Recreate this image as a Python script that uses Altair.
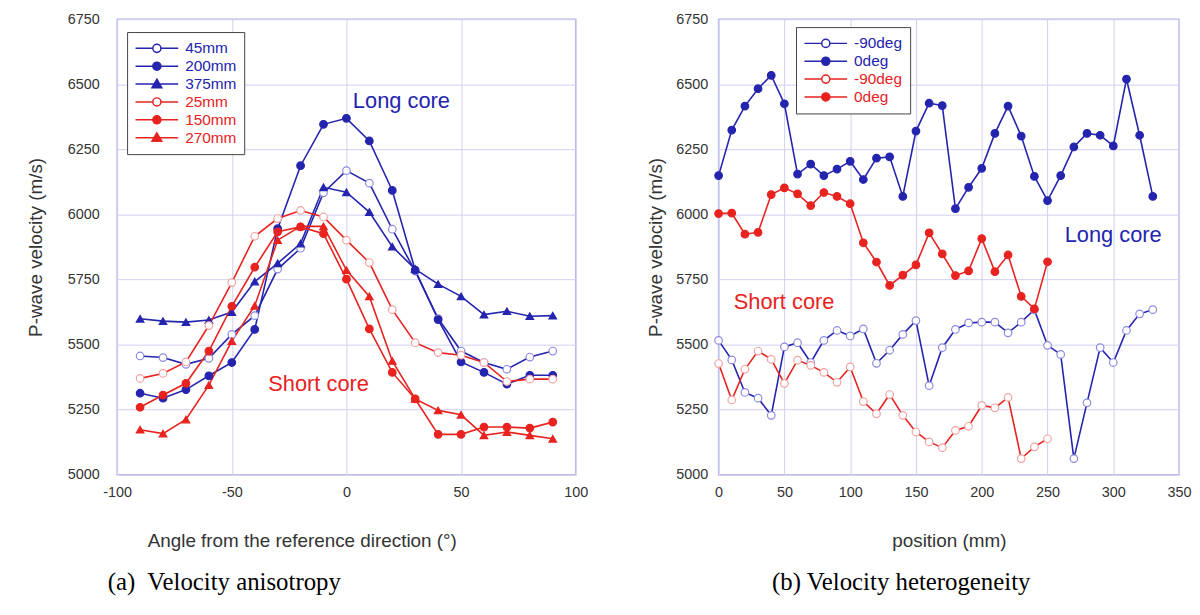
import altair as alt
import pandas as pd

BLUE = "#2424ae"
RED = "#e8231f"
BLUE_OPEN = "#8a8ae0"
RED_OPEN = "#f2a2a2"

# ---------------- left panel data (angle vs velocity) ----------------
angles = list(range(-90, 91, 10))
v_45mm = [5456, 5450, 5424, 5447, 5539, 5611, 5790, 5870, 6083, 6168, 6120, 5943, 5782, 5600, 5475, 5431, 5405, 5452, 5475]
v_200mm = [5313, 5294, 5327, 5380, 5431, 5558, 5945, 6187, 6346, 6369, 6282, 6092, 5786, 5596, 5433, 5393, 5348, 5382, 5382]
v_375mm = [5599, 5590, 5586, 5594, 5625, 5742, 5812, 5888, 6104, 6085, 6009, 5876, 5790, 5732, 5685, 5615, 5628, 5609, 5611]
v_25mm = [5370, 5389, 5433, 5573, 5738, 5916, 5984, 6015, 5990, 5901, 5815, 5634, 5507, 5469, 5459, 5431, 5358, 5367, 5367]
v_150mm = [5259, 5306, 5351, 5475, 5647, 5797, 5933, 5952, 5926, 5751, 5560, 5393, 5291, 5155, 5155, 5183, 5183, 5179, 5202]
v_270mm = [5173, 5158, 5212, 5344, 5513, 5649, 5901, 5954, 5954, 5786, 5685, 5437, 5291, 5247, 5230, 5151, 5164, 5151, 5138]

left_names = ["45mm", "200mm", "375mm", "25mm", "150mm", "270mm"]
left_values = [v_45mm, v_200mm, v_375mm, v_25mm, v_150mm, v_270mm]
left_colors = [BLUE, BLUE, BLUE, RED, RED, RED]
left_open = [True, False, False, True, False, False]
left_shapes = ["circle", "circle", "triangle-up", "circle", "circle", "triangle-up"]

# ---------------- right panel data (position vs velocity) ----------------
pos_long = list(range(0, 331, 10))
pos_short = list(range(0, 251, 10))
long_m90 = [5516, 5441, 5316, 5294, 5228, 5491, 5507, 5431, 5516, 5554, 5533, 5560, 5428, 5478, 5539, 5592, 5342,
            5488, 5558, 5583, 5586, 5586, 5545, 5586, 5634, 5497, 5462, 5062, 5276, 5488, 5431, 5554, 5618, 5634]
long_0 = [6149, 6324, 6416, 6483, 6534, 6425, 6155, 6193, 6149, 6174, 6204, 6134, 6216, 6221, 6069, 6320, 6427,
          6418, 6022, 6104, 6177, 6311, 6416, 6301, 6146, 6053, 6149, 6259, 6311, 6304, 6263, 6520, 6304, 6069]
short_m90 = [5427, 5287, 5405, 5475, 5443, 5351, 5440, 5420, 5393, 5355, 5414, 5281, 5234, 5308, 5228, 5164, 5126,
             5104, 5170, 5186, 5266, 5257, 5297, 5062, 5107, 5138]
short_0 = [6003, 6005, 5924, 5931, 6076, 6102, 6079, 6034, 6084, 6069, 6041, 5891, 5817, 5727, 5767, 5806, 5929,
           5848, 5765, 5783, 5907, 5780, 5844, 5685, 5637, 5818]

right_keys = ["L-90deg", "L0deg", "S-90deg", "S0deg"]
right_x = [pos_long, pos_long, pos_short, pos_short]
right_values = [long_m90, long_0, short_m90, short_0]
right_colors = [BLUE, BLUE, RED, RED]
right_open = [True, False, True, False]
right_shapes = ["circle", "circle", "circle", "circle"]

y_ticks = [5000, 5250, 5500, 5750, 6000, 6250, 6500, 6750]

# annotations
left_text = ["Long core", "Short core"]
left_text_x = [2.8, -34.1]
left_text_y = [6435, 5348]
left_text_c = [BLUE, RED]
right_text = ["Long core", "Short core"]
right_text_x = [263, 11.5]
right_text_y = [5920, 5662]
right_text_c = [BLUE, RED]

R = 0.19
CIRC_PATH = f"M-1,0H-{R}M{R},0H1M-{R},0A{R},{R} 0 1,1 {R},0A{R},{R} 0 1,1 -{R},0Z"
TRI_PATH = "M-1,0H1M0,-0.23L0.23,0.17L-0.23,0.17Z"


def build_df(keys, xs, vals, colors, opens, shapes):
    rows = []
    for k, xx, vv, c, o, s in zip(keys, xs, vals, colors, opens, shapes):
        oc = BLUE_OPEN if c == BLUE else RED_OPEN
        for a, b in zip(xx, vv):
            rows.append({"series": k, "x": a, "v": b, "lc": c,
                         "fc": "white" if o else c, "sc": oc if o else c, "shp": s})
    return pd.DataFrame(rows)


def panel(df, keys, colors, opens, shapes, xdom, xvals, xtitle, legend_xy, label_expr, texts,
          caption, cap_dx, ylab_pad, ytitle_pad, width, xtitle_x=None):
    font = "Liberation Sans"
    xaxis_kwargs = dict(title=xtitle, values=xvals, labelExpr="'' + datum.value", grid=True, ticks=False,
                        domain=False, labelFontSize=14.5, titleFontSize=19, labelFont=font, titleFont=font,
                        titleFontWeight="normal", labelColor="#333333", titleColor="#333333",
                        labelPadding=11, titlePadding=33, labelFlush=False, labelOverlap=False)
    if xtitle_x is not None:
        xaxis_kwargs["titleX"] = xtitle_x
    x = alt.X("x:Q", scale=alt.Scale(domain=xdom, nice=False), axis=alt.Axis(**xaxis_kwargs))
    y = alt.Y("v:Q", scale=alt.Scale(domain=[5000, 6750], nice=False),
              axis=alt.Axis(title="P-wave velocity (m/s)", values=y_ticks, format="d", grid=True, ticks=False,
                            domain=False, labelFontSize=14.5, titleFontSize=19, labelFont=font, titleFont=font,
                            titleFontWeight="normal", labelColor="#333333", titleColor="#333333",
                            labelPadding=ylab_pad, titlePadding=ytitle_pad, labelFlush=False,
                            labelOverlap=False))
    base = alt.Chart(df)
    lines = base.mark_line(strokeWidth=1.6).encode(
        x=x, y=y, detail="series:N", stroke=alt.Stroke("lc:N", scale=None))
    pts = base.mark_point(filled=True, size=58, strokeWidth=1.2, opacity=1).encode(
        x=x, y=y, shape=alt.Shape("shp:N", scale=None),
        fill=alt.Fill("fc:N", scale=None), stroke=alt.Stroke("sc:N", scale=None))

    paths = [TRI_PATH if s == "triangle-up" else CIRC_PATH for s in shapes]
    fills = ["white" if o else c for o, c in zip(opens, colors)]
    blue_keys = [k for k, c in zip(keys, colors) if c == BLUE]
    color_expr = "indexof(" + str(blue_keys) + ", datum.value) >= 0 ? '" + BLUE + "' : '" + RED + "'"
    leg = alt.Legend(title=None, orient="none", legendX=legend_xy[0], legendY=legend_xy[1],
                     symbolSize=1849, clipHeight=17.8, rowPadding=0, labelFont=font, labelFontSize=15.5,
                     labelColor=alt.ExprRef(color_expr), labelOffset=6, padding=7.5,
                     strokeColor="#444444", fillColor="white", symbolStrokeWidth=1.5, symbolOpacity=1,
                     labelExpr=label_expr, labelLimit=300)
    dummy = base.mark_point(filled=True).transform_filter("datum.v < 0").encode(
        x=x, y=y,
        shape=alt.Shape("series:N", scale=alt.Scale(domain=keys, range=paths), legend=leg),
        fill=alt.Fill("series:N", scale=alt.Scale(domain=keys, range=fills), legend=leg),
        stroke=alt.Stroke("series:N", scale=alt.Scale(domain=keys, range=colors), legend=leg))

    tdf = pd.DataFrame({"x": texts[1], "v": texts[2], "t": texts[0], "c": texts[3]})
    txt = alt.Chart(tdf).mark_text(align="left", baseline="middle", fontSize=22, font=font).encode(
        x=alt.X("x:Q"), y=alt.Y("v:Q"), text="t:N", color=alt.Color("c:N", scale=None))

    return alt.layer(lines, pts, dummy, txt).resolve_scale(
        stroke="independent", fill="independent", shape="independent", color="independent"
    ).properties(
        width=width, height=459,
        title=alt.TitleParams(text=caption, orient="bottom", anchor="middle", frame="group", dx=cap_dx,
                              font="Liberation Serif", fontSize=25, fontWeight="normal", color="black",
                              offset=20))


left_df = build_df(left_names, [angles] * 6, left_values, left_colors, left_open, left_shapes)
right_df = build_df(right_keys, right_x, right_values, right_colors, right_open, right_shapes)

left = panel(left_df, left_names, left_colors, left_open, left_shapes, [-100, 100], [-100, -50, 0, 50, 100],
             "Angle from the reference direction (\u00b0)", (10, 13), "datum.label",
             (left_text, left_text_x, left_text_y, left_text_c),
             "(a)\u00a0 Velocity anisotropy", -123, 18, 22, 462, xtitle_x=186)
right = panel(right_df, right_keys, right_colors, right_open, right_shapes, [0, 350],
              [0, 50, 100, 150, 200, 250, 300, 350], "position (mm)", (78, 8), "substring(datum.label, 1)",
              (right_text, right_text_x, right_text_y, right_text_c),
              "(b) Velocity heterogeneity", -48, 11, 10, 464)

chart = alt.hconcat(left, right, spacing=144, bounds="flush").properties(
    padding={"left": 17, "top": 0, "right": 0, "bottom": 0}
).configure_view(stroke="#b4b4e8", strokeWidth=1.5).configure_axis(gridColor="#d0d0f2", gridWidth=1)

chart.save("out.html", embed_options={"renderer": "svg", "actions": False})
